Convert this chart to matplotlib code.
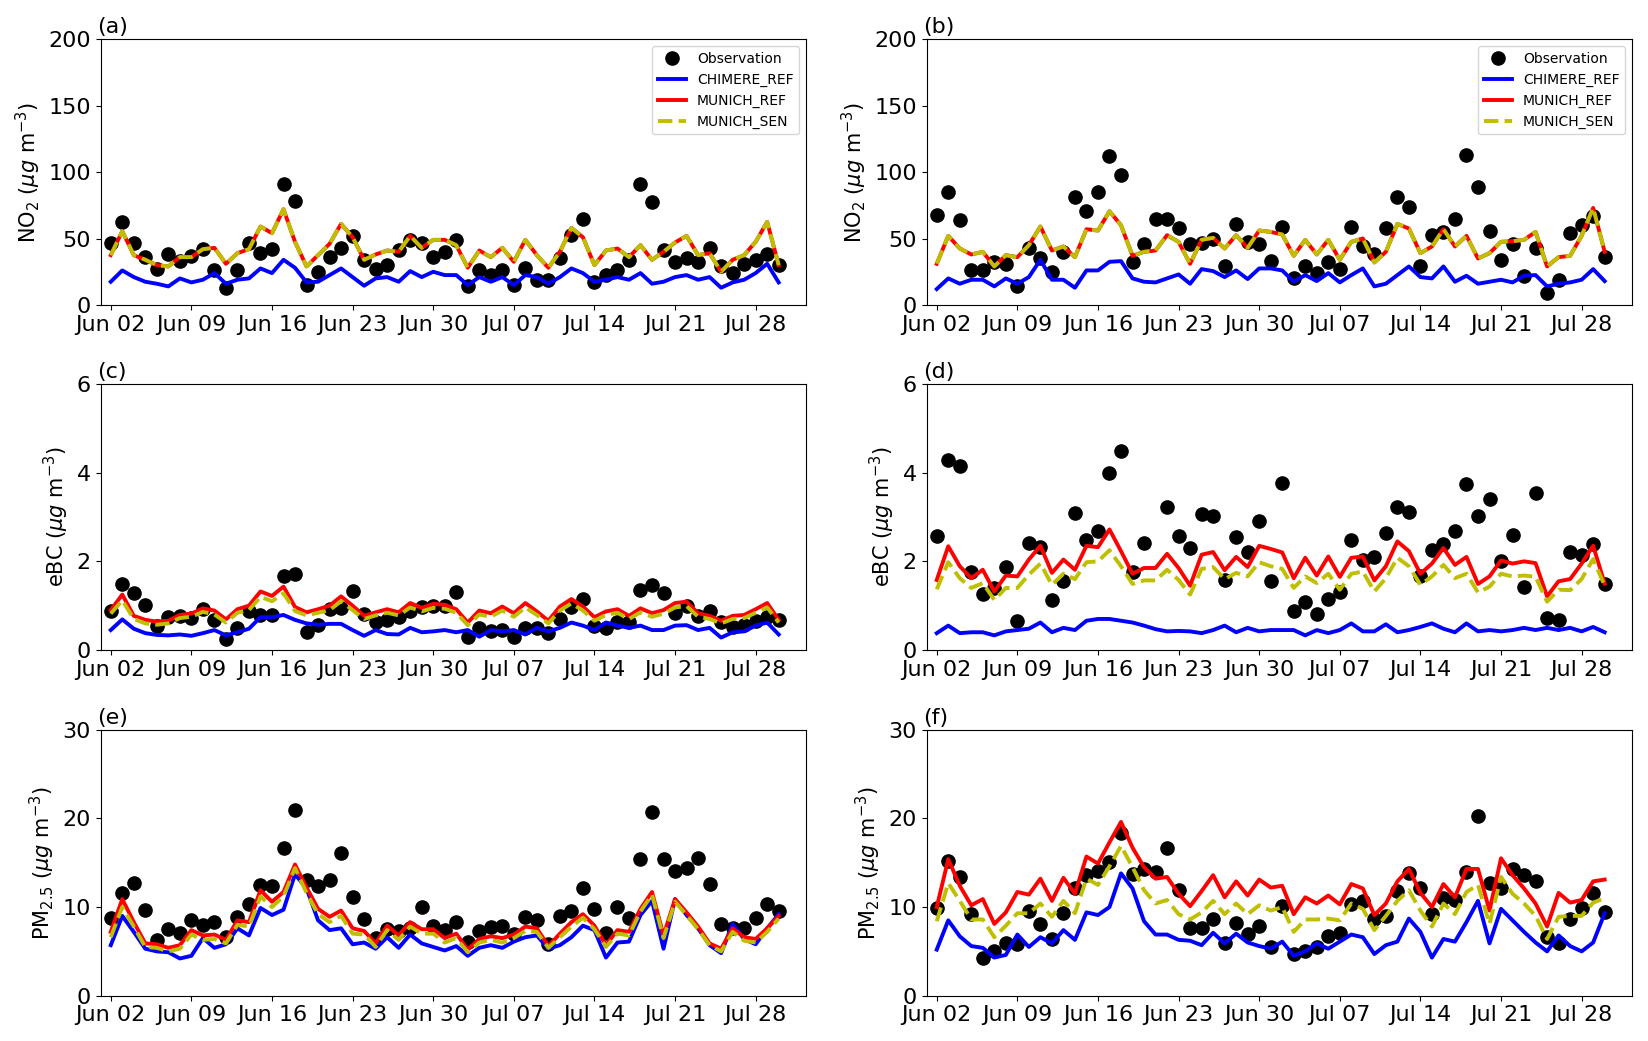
import matplotlib
matplotlib.use('Agg')
import matplotlib.pyplot as plt
import matplotlib.dates as mdates
import numpy as np
import pandas as pd

nan = np.nan
dates = pd.date_range('2019-06-02', periods=59, freq='D')
tick_dates = pd.date_range('2019-06-02', periods=9, freq='7D')

# (a) NO2, station 1
obs_a = [47, 62.5, 47, 36, 27, 38, 33, 37, 42, 26,
         13, 26, 47, 39, 42, 91, 78, 15, 25, 36,
         43, 52, 34, 27, 30, 41, 49, 47, 36, 40,
         49, 14.5, 26, 22.5, 26, 15, 28, 19, 19, 35.5,
         52.5, 65, 17.5, 22.5, 26, 34, 91, 77.5, 41, 32,
         35, 32, 42.5, 29, 24, 30.5, 34, 38, 30]
chimere_a = [17.5, 26, 21, 17.5, 16, 14, 20, 17, 19, 24,
             16, 19, 20, 27.5, 24, 34, 28, 17, 17.5, 22.5,
             27.5, 21, 14.5, 20, 21, 17.5, 25.5, 21, 25, 22.5,
             22.5, 15, 21, 17.5, 21, 15, 22.5, 21, 16, 21,
             27.5, 24, 17.5, 19, 21, 19, 24, 16, 17.5, 21,
             22.5, 19, 21, 13, 17, 19, 24, 31, 17]
munich_ref_a = [37.5, 55.5, 37.5, 34, 30, 29, 36, 36, 42, 43,
                31, 39, 42, 59, 54, 72, 47.5, 29, 37.5, 46,
                61, 51, 34, 38, 41, 40, 52, 43, 49, 49,
                45, 28, 41, 36, 43, 32.5, 49, 37.5, 28, 40,
                58, 51, 30, 41, 42.5, 36, 45, 34, 40, 47,
                52, 37.5, 39, 25, 34, 37.5, 47.5, 62.5, 30]
munich_sen_a = list(munich_ref_a)  # identical to REF for NO2

# (b) NO2, station 2
obs_b = [68, 85, 64, 26, 26, 32, 31, 14, 43, 35,
         24.5, 40, 81, 71, 85, 112, 98, 32.5, 46, 65,
         65, 58, 46, 47, 49.5, 29, 61, 47.5, 46, 33,
         59, 20, 29, 24, 32, 27, 59, 44, 38, 58,
         81, 74, 29, 52.5, 55, 65, 113, 89, 55.5, 34,
         46, 22, 43, 9, 19, 54, 60, 67, 36]
chimere_b = [12, 20, 16, 19, 19, 14, 20, 16, 21, 34,
             19, 19, 13, 26, 26, 32.5, 33, 20, 17.5, 17,
             20, 23, 16, 27, 25.5, 21, 26, 19.5, 27.5, 27.5,
             26, 17.5, 22.5, 18, 24, 17, 22.5, 27.5, 14, 16,
             22.5, 29, 21, 20, 29, 17.5, 22, 16, 17.5, 19,
             17, 22, 22.5, 14, 16, 17, 19, 27, 18]
munich_ref_b = [31, 52, 42.5, 38, 40, 29, 37.5, 36, 45, 59,
                41, 44, 36, 57, 56, 70.5, 60, 37, 40, 41,
                52.5, 47.5, 31, 49, 50.5, 42.5, 52.5, 43, 56, 55,
                53, 37, 49, 38, 49, 34, 47.5, 50, 32, 40,
                61, 57.5, 39, 44, 57, 44, 52, 35, 39, 47.5,
                48, 49, 55, 29, 36, 37, 52, 73, 40]
munich_sen_b = list(munich_ref_b)

# (c) eBC, station 1
obs_c = [0.87, 1.49, 1.28, 1.02, 0.55, 0.74, 0.77, 0.72, 0.92, 0.68,
         0.25, 0.5, 0.87, 0.79, 0.79, 1.68, 1.72, 0.4, 0.57, 0.92,
         0.95, 1.32, 0.82, 0.64, 0.68, 0.74, 0.87, 0.97, 1.0, 1.0,
         1.3, 0.3, 0.5, 0.42, 0.45, 0.3, 0.5, 0.5, 0.38, 0.69,
         0.97, 1.15, 0.55, 0.5, 0.64, 0.64, 1.36, 1.46, 1.28, 0.83,
         1.0, 0.77, 0.89, 0.64, 0.53, 0.57, 0.66, 0.74, 0.68]
chimere_c = [0.45, 0.69, 0.48, 0.38, 0.34, 0.33, 0.35, 0.32, 0.38, 0.45,
             0.33, 0.4, 0.48, 0.74, 0.74, 0.79, 0.68, 0.6, 0.57, 0.59,
             0.59, 0.45, 0.32, 0.45, 0.36, 0.35, 0.5, 0.4, 0.42, 0.45,
             0.4, 0.45, 0.3, 0.45, 0.42, 0.45, 0.35, 0.5, 0.42, 0.5,
             0.62, 0.55, 0.45, 0.62, 0.55, 0.5, 0.55, 0.45, 0.45, 0.55,
             0.56, 0.45, 0.5, 0.28, 0.4, 0.42, 0.55, 0.62, 0.35]
munich_ref_c = [0.9, 1.25, 0.77, 0.68, 0.64, 0.66, 0.79, 0.82, 0.94, 0.89,
                0.69, 0.92, 1.0, 1.32, 1.22, 1.43, 0.97, 0.85, 0.92, 1.0,
                1.21, 1.0, 0.77, 0.85, 0.92, 0.85, 1.06, 0.95, 1.04, 1.02,
                0.92, 0.62, 0.89, 0.83, 0.98, 0.83, 1.06, 0.87, 0.66, 0.98,
                1.15, 0.98, 0.74, 0.87, 0.92, 0.77, 0.94, 0.83, 0.9, 1.06,
                1.09, 0.83, 0.77, 0.66, 0.77, 0.79, 0.92, 1.06, 0.68]
munich_sen_c = [0.82, 1.12, 0.7, 0.6, 0.57, 0.6, 0.72, 0.75, 0.86, 0.8,
                0.62, 0.84, 0.9, 1.2, 1.1, 1.28, 0.88, 0.78, 0.84, 0.9,
                1.1, 0.9, 0.7, 0.78, 0.84, 0.78, 0.96, 0.87, 0.95, 0.93,
                0.84, 0.56, 0.8, 0.75, 0.89, 0.75, 0.96, 0.79, 0.6, 0.89,
                1.05, 0.89, 0.66, 0.79, 0.84, 0.7, 0.85, 0.75, 0.82, 0.96,
                0.99, 0.75, 0.7, 0.6, 0.7, 0.72, 0.84, 0.96, 0.62]

# (d) eBC, station 2
obs_d = [2.58, 4.29, 4.14, 1.77, 1.27, 1.4, 1.87, 0.66, 2.42, 2.32,
         1.13, 1.55, 3.08, 2.48, 2.68, 4.0, 4.48, 1.75, 2.42, nan,
         3.23, 2.58, 2.3, 3.06, 3.03, 1.57, 2.55, 2.2, 2.9, 1.55,
         3.77, 0.89, 1.08, 0.82, 1.15, 1.31, 2.49, 2.02, 2.1, 2.64,
         3.22, 3.11, 1.66, 2.25, 2.4, 2.68, 3.74, 3.02, 3.4, 2.0,
         2.6, 1.41, 3.55, 0.72, 0.68, 2.2, 2.15, 2.38, 1.5]
chimere_d = [0.38, 0.55, 0.38, 0.4, 0.4, 0.33, 0.42, 0.45, 0.48, 0.62,
             0.4, 0.5, 0.45, 0.66, 0.7, 0.7, 0.66, 0.62, 0.55, 0.47,
             0.42, 0.43, 0.42, 0.38, 0.45, 0.55, 0.4, 0.5, 0.42, 0.45,
             0.45, 0.45, 0.33, 0.45, 0.38, 0.45, 0.6, 0.42, 0.42, 0.58,
             0.4, 0.45, 0.52, 0.6, 0.48, 0.4, 0.6, 0.42, 0.45, 0.42,
             0.45, 0.5, 0.45, 0.5, 0.45, 0.5, 0.42, 0.52, 0.4]
munich_ref_d = [1.58, 2.34, 1.89, 1.62, 1.81, 1.32, 1.68, 1.66, 2.04, 2.35,
                1.74, 2.04, 1.81, 2.35, 2.32, 2.72, 2.23, 1.72, 1.85, 1.85,
                2.17, 1.85, 1.45, 2.15, 2.21, 1.8, 2.1, 1.87, 2.35, 2.28,
                2.2, 1.62, 2.08, 1.68, 2.11, 1.65, 2.08, 2.11, 1.57, 1.89,
                2.45, 2.23, 1.72, 1.95, 2.3, 1.92, 2.1, 1.49, 1.66, 2.02,
                1.95, 2.0, 1.96, 1.21, 1.55, 1.6, 1.95, 2.35, 1.5]
munich_sen_d = [1.37, 1.98, 1.62, 1.4, 1.51, 1.13, 1.4, 1.4, 1.7, 1.95,
                1.47, 1.72, 1.6, 1.98, 2.0, 2.25, 1.89, 1.49, 1.57, 1.57,
                1.81, 1.58, 1.25, 1.83, 1.87, 1.6, 1.74, 1.66, 1.98, 1.89,
                1.83, 1.4, 1.66, 1.51, 1.72, 1.36, 1.72, 1.77, 1.32, 1.62,
                2.08, 1.89, 1.47, 1.66, 1.92, 1.62, 1.72, 1.3, 1.43, 1.72,
                1.66, 1.68, 1.65, 1.09, 1.36, 1.35, 1.6, 2.05, 1.45]

# (e) PM2.5, station 1
obs_e = [8.8, 11.6, 12.7, 9.7, 6.3, 7.5, 7.1, 8.5, 8.0, 8.3,
         6.6, 8.9, 10.3, 12.5, 12.4, 16.7, 21.0, 13.0, 12.4, 13.1,
         16.1, 11.1, 8.6, 6.5, 7.5, 7.3, 7.6, 10.0, 7.9, 7.4,
         8.3, 6.1, 7.3, 7.8, 7.9, 7.0, 8.9, 8.5, 5.8, 9.0,
         9.6, 12.1, 9.8, 7.1, 10.0, 8.8, 15.4, 20.7, 15.4, 14.1,
         14.4, 15.5, 12.6, 8.1, 7.6, 7.6, 8.8, 10.3, 9.5]
chimere_e = [5.7, 9.0, 7.2, 5.3, 5.0, 4.9, 4.2, 4.5, 6.5, 5.4,
             5.8, 7.6, 6.8, 9.9, 9.1, 9.7, 13.7, 12.1, 8.5, 7.4,
             7.6, 5.8, 6.0, 5.3, 6.6, 5.4, 6.9, 5.9, 5.5, 5.1,
             5.6, 4.5, 5.4, 5.7, 5.4, 6.1, 6.6, 6.8, 5.3, 5.7,
             6.6, 7.9, 7.4, 4.3, 6.0, 6.1, 9.1, 10.7, 5.3, 10.9,
             9.1, 7.6, 5.7, 4.8, 8.1, 6.4, 5.8, 7.6, 9.2]
munich_ref_e = [7.2, 10.9, 8.3, 5.9, 5.8, 5.4, 5.7, 7.4, 6.8, 6.9,
                6.3, 8.5, 8.3, 11.9, 10.6, 11.7, 14.8, 12.2, 9.8, 8.9,
                9.6, 7.6, 7.3, 5.9, 7.9, 6.8, 8.3, 7.5, 7.5, 6.5,
                7.0, 5.2, 6.4, 6.7, 6.5, 6.9, 7.8, 7.6, 5.6, 7.0,
                8.3, 9.2, 7.9, 5.7, 7.4, 7.2, 9.8, 11.7, 6.8, 10.9,
                9.4, 7.8, 5.9, 5.3, 7.6, 6.6, 6.4, 7.6, 9.0]
munich_sen_e = [6.6, 10.0, 7.8, 5.5, 5.4, 5.0, 5.3, 6.9, 6.3, 6.4,
                5.9, 8.0, 7.8, 11.2, 10.0, 11.2, 14.4, 11.6, 9.2, 8.3,
                9.0, 7.0, 6.9, 5.5, 7.4, 6.3, 7.8, 7.0, 7.0, 6.0,
                6.5, 4.9, 6.0, 6.3, 6.0, 6.5, 7.3, 7.2, 5.4, 6.6,
                7.8, 8.8, 7.5, 5.5, 7.0, 6.8, 9.5, 11.4, 6.5, 10.6,
                9.1, 7.5, 5.7, 5.0, 7.2, 6.2, 6.0, 7.2, 8.7]

# (f) PM2.5, station 2
obs_f = [9.9, 15.2, 13.4, 9.2, 4.2, 5.0, 6.0, 5.8, 9.6, 8.1,
         6.4, 9.3, 12.1, 13.6, 14.1, 15.1, 18.4, 13.7, 14.3, 14.0,
         16.7, 11.9, 7.6, 7.6, 8.6, 5.9, 8.2, 7.0, 7.9, 5.5,
         10.1, 4.7, 5.1, 5.5, 6.7, 7.1, 10.4, 10.7, 8.6, 9.0,
         11.8, 13.8, 12.1, 9.2, 11.0, 10.8, 13.9, 20.3, 12.7, 12.2,
         14.3, 13.6, 12.9, 6.6, 5.9, 8.7, 9.9, 11.6, 9.4]
chimere_f = [5.2, 8.5, 6.7, 5.6, 5.4, 4.3, 4.6, 6.9, 5.5, 6.6,
             5.9, 7.4, 6.3, 9.4, 9.1, 10.0, 13.8, 12.1, 8.4, 6.9,
             6.9, 6.3, 6.2, 5.7, 7.1, 5.9, 7.0, 6.0, 5.6, 5.3,
             6.1, 4.5, 5.0, 5.9, 5.3, 6.1, 6.9, 6.6, 4.7, 5.7,
             6.1, 8.7, 7.2, 4.3, 6.4, 6.1, 8.3, 10.7, 5.9, 9.8,
             8.5, 7.2, 6.0, 5.0, 6.8, 5.6, 5.0, 6.0, 9.3]
munich_ref_f = [10.0, 15.4, 12.4, 10.2, 10.9, 8.1, 9.4, 11.7, 11.4, 13.2,
                10.7, 13.3, 11.5, 15.7, 14.9, 17.3, 19.6, 16.7, 14.5, 13.2,
                13.4, 11.5, 10.1, 11.8, 13.6, 11.1, 12.9, 11.3, 13.1, 12.2,
                12.4, 9.2, 11.1, 10.4, 11.3, 10.3, 12.6, 12.1, 9.1, 10.4,
                12.9, 14.3, 11.6, 10.0, 12.6, 11.1, 14.3, 14.3, 9.6, 15.5,
                13.6, 12.1, 10.4, 7.8, 11.6, 10.5, 10.8, 12.9, 13.1]
munich_sen_f = [8.4, 12.7, 10.7, 8.6, 8.6, 6.6, 7.9, 9.3, 9.3, 10.4,
                8.9, 10.7, 9.3, 13.2, 12.5, 14.6, 16.9, 14.5, 11.9, 10.4,
                10.8, 9.2, 8.6, 9.4, 10.7, 9.2, 10.4, 9.2, 10.2, 9.6,
                10.0, 7.2, 8.6, 8.6, 8.7, 8.5, 10.4, 9.8, 7.4, 9.0,
                10.7, 11.9, 9.6, 7.8, 10.4, 9.2, 11.7, 12.5, 8.1, 13.4,
                11.5, 10.4, 9.0, 6.4, 8.9, 9.0, 9.0, 10.5, 11.0]

no2_label = r'NO$_2$ ($\mu g$ m$^{-3}$)'
ebc_label = r'eBC ($\mu g$ m$^{-3}$)'
pm_label = r'PM$_{2.5}$ ($\mu g$ m$^{-3}$)'

panels = [
    ('(a)', obs_a, chimere_a, munich_ref_a, munich_sen_a, no2_label, 200, [0, 50, 100, 150, 200], True),
    ('(b)', obs_b, chimere_b, munich_ref_b, munich_sen_b, no2_label, 200, [0, 50, 100, 150, 200], True),
    ('(c)', obs_c, chimere_c, munich_ref_c, munich_sen_c, ebc_label, 6, [0, 2, 4, 6], False),
    ('(d)', obs_d, chimere_d, munich_ref_d, munich_sen_d, ebc_label, 6, [0, 2, 4, 6], False),
    ('(e)', obs_e, chimere_e, munich_ref_e, munich_sen_e, pm_label, 30, [0, 10, 20, 30], False),
    ('(f)', obs_f, chimere_f, munich_ref_f, munich_sen_f, pm_label, 30, [0, 10, 20, 30], False),
]

fig = plt.figure(figsize=(16.48, 10.41), dpi=100)
lefts = [0.0611, 0.5623]
bottoms = [0.707, 0.3756, 0.0435]
w, h = 0.428, 0.2555

x0 = dates[0] - pd.Timedelta(hours=21)
x1 = dates[0] + pd.Timedelta(hours=int(60.4 * 24))

for i, (tag, obs, chim, mref, msen, ylab, ymax, yticks, show_leg) in enumerate(panels):
    ax = fig.add_axes([lefts[i % 2], bottoms[i // 2], w, h])
    ax.plot(dates, obs, 'o', color='black', markersize=9.5, label='Observation')
    ax.plot(dates, chim, '-', color='b', linewidth=2.8, label='CHIMERE_REF')
    ax.plot(dates, mref, '-', color='r', linewidth=2.8, label='MUNICH_REF')
    ax.plot(dates, msen, '--', color='y', linewidth=2.8, label='MUNICH_SEN')
    ax.set_ylim(0, ymax)
    ax.set_yticks(yticks)
    ax.set_xlim(x0, x1)
    ax.set_xticks(tick_dates)
    ax.xaxis.set_major_formatter(mdates.DateFormatter('%b %d'))
    ax.tick_params(labelsize=16)
    ax.set_ylabel(ylab, fontsize=15)
    ax.set_title(tag, loc='left', fontsize=16, x=-0.005, pad=4)
    if show_leg:
        ax.legend(loc='upper right', fontsize=10)

fig.savefig('out.png', dpi=100)
